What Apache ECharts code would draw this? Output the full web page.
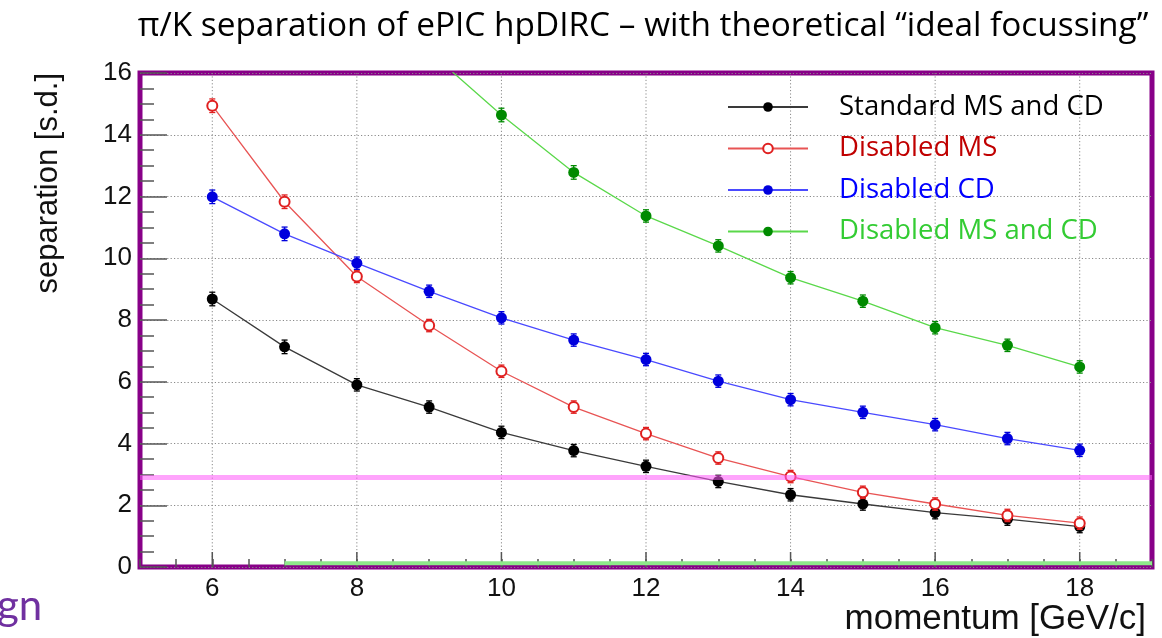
<!DOCTYPE html>
<html>
<head>
<meta charset="utf-8">
<title>π/K separation of ePIC hpDIRC</title>
<script src="https://cdn.jsdelivr.net/npm/echarts@6/dist/echarts.min.js"></script>
<style>
  html, body { margin: 0; padding: 0; background: #ffffff; }
  #chart { width: 1162px; height: 638px; }
</style>
</head>
<body>
<div id="chart"></div>
<script>
// ---- data ---------------------------------------------------------------
const momentum = [6, 7, 8, 9, 10, 11, 12, 13, 14, 15, 16, 17, 18];

const sepStandard = [8.68, 7.13, 5.90, 5.18, 4.36, 3.77, 3.26, 2.77, 2.34, 2.04, 1.76, 1.55, 1.31];
const errStandard = [0.22, 0.22, 0.2, 0.2, 0.2, 0.2, 0.2, 0.2, 0.2, 0.2, 0.2, 0.2, 0.2];

const sepNoMS = [14.94, 11.83, 9.41, 7.82, 6.34, 5.18, 4.32, 3.53, 2.93, 2.42, 2.04, 1.67, 1.42];
const errNoMS = [0.22, 0.22, 0.2, 0.2, 0.2, 0.2, 0.2, 0.2, 0.2, 0.2, 0.2, 0.2, 0.2];

const sepNoCD = [11.99, 10.79, 9.84, 8.93, 8.07, 7.35, 6.72, 6.02, 5.42, 5.01, 4.61, 4.16, 3.78];
const errNoCD = [0.22, 0.22, 0.2, 0.2, 0.2, 0.2, 0.2, 0.2, 0.2, 0.2, 0.2, 0.2, 0.2];

const momentumNoMSCD = [9, 10, 11, 12, 13, 14, 15, 16, 17, 18];
const sepNoMSCD = [16.7, 14.64, 12.78, 11.37, 10.40, 9.37, 8.61, 7.75, 7.18, 6.48];
const errNoMSCD = [0.22, 0.22, 0.22, 0.2, 0.2, 0.2, 0.2, 0.2, 0.2, 0.2];

const seriesNames = ['Standard MS and CD', 'Disabled MS', 'Disabled CD', 'Disabled MS and CD'];

const xTickLabels = [6, 8, 10, 12, 14, 16, 18];
const xRange = [5, 19];
const yRange = [0, 16];

// 3 s.d. reference band and the green baseline segment
const thresholdLevel = 2.9;
const baselineSpan = [7, 19];
const baselineLevel = 0.12;

// ---- styling ------------------------------------------------------------
const styles = [
  { line: '#3a3a3a', marker: '#000000', text: '#000000', symbol: 'circle' },
  { line: '#e85454', marker: '#e02020', text: '#c00000', symbol: 'emptyCircle' },
  { line: '#4a4aff', marker: '#0000dd', text: '#0000ff', symbol: 'circle' },
  { line: '#5ad84a', marker: '#008a00', text: '#33cc33', symbol: 'circle' }
];

const pairs = (xs, ys) => xs.map((x, i) => [x, ys[i]]);
const triples = (xs, ys, es) => xs.map((x, i) => [x, ys[i], es[i]]);

const sets = [
  { x: momentum, y: sepStandard, e: errStandard },
  { x: momentum, y: sepNoMS, e: errNoMS },
  { x: momentum, y: sepNoCD, e: errNoCD },
  { x: momentumNoMSCD, y: sepNoMSCD, e: errNoMSCD }
];

const series = [];

// vertical dotted grid lines and long ticks at labelled momenta
series.push({
  type: 'custom',
  silent: true,
  z: 1,
  clip: true,
  data: xTickLabels.map(v => [v, 0]),
  encode: { x: 0, y: 1 },
  renderItem: (params, api) => {
    const v = api.value(0);
    const top = api.coord([v, yRange[1]]);
    const bot = api.coord([v, yRange[0]]);
    return {
      type: 'group',
      children: [
        { type: 'line', shape: { x1: top[0], y1: top[1], x2: bot[0], y2: bot[1] },
          style: { stroke: '#8a8a8a', lineWidth: 1, lineDash: [1.2, 2.2] } },
        { type: 'line', shape: { x1: bot[0], y1: bot[1], x2: bot[0], y2: bot[1] - 15 },
          style: { stroke: '#555555', lineWidth: 1.5 } }
      ]
    };
  }
});

sets.forEach((s, i) => {
  const st = styles[i];
  series.push({
    name: seriesNames[i],
    type: 'line',
    data: pairs(s.x, s.y),
    symbol: st.symbol,
    symbolSize: st.symbol === 'emptyCircle' ? 10 : 11,
    showSymbol: true,
    clip: true,
    z: 3 + i,
    lineStyle: { color: st.line, width: 1.3 },
    itemStyle: { color: st.marker, borderColor: st.marker, borderWidth: st.symbol === 'emptyCircle' ? 1.4 : 0 },
    emphasis: { disabled: true }
  });
  series.push({
    type: 'custom',
    silent: true,
    clip: true,
    z: 3 + i,
    data: triples(s.x, s.y, s.e),
    encode: { x: 0, y: 1 },
    renderItem: (params, api) => {
      const x = api.value(0), y = api.value(1), e = api.value(2);
      const lo = api.coord([x, y - e]);
      const hi = api.coord([x, y + e]);
      const c = { stroke: st.marker, lineWidth: 1.3 };
      return {
        type: 'group',
        children: [
          { type: 'line', shape: { x1: lo[0], y1: lo[1], x2: hi[0], y2: hi[1] }, style: c },
          { type: 'line', shape: { x1: lo[0] - 3, y1: lo[1], x2: lo[0] + 3, y2: lo[1] }, style: c },
          { type: 'line', shape: { x1: hi[0] - 3, y1: hi[1], x2: hi[0] + 3, y2: hi[1] }, style: c }
        ]
      };
    }
  });
});

// 3 s.d. band
series.push({
  type: 'line',
  silent: true,
  z: 10,
  data: [[xRange[0], thresholdLevel], [xRange[1], thresholdLevel]],
  symbol: 'none',
  lineStyle: { color: 'rgba(255, 90, 250, 0.55)', width: 5 }
});

// green baseline
series.push({
  type: 'line',
  silent: true,
  z: 2,
  data: [[baselineSpan[0], baselineLevel], [baselineSpan[1], baselineLevel]],
  symbol: 'none',
  lineStyle: { color: '#8ee88a', width: 4 }
});

const chart = echarts.init(document.getElementById('chart'), null, { renderer: 'canvas' });

chart.setOption({
  animation: false,
  backgroundColor: '#ffffff',
  grid: {
    left: 140, right: 10, top: 73, bottom: 71,
    show: true, borderColor: '#880088', borderWidth: 5, backgroundColor: 'transparent'
  },
  xAxis: {
    type: 'value',
    min: xRange[0], max: xRange[1], interval: 1,
    axisLine: { show: false },
    axisTick: { show: true, inside: true, length: 8, lineStyle: { color: '#555555', width: 1.5 } },
    minorTick: { show: true, splitNumber: 2, length: 8, lineStyle: { color: '#555555', width: 1.5 } },
    splitLine: { show: false },
    axisLabel: {
      margin: 9,
      fontFamily: 'Liberation Sans', fontSize: 26, color: '#111111',
      formatter: v => (xTickLabels.indexOf(v) >= 0 ? String(v) : '')
    }
  },
  yAxis: {
    type: 'value',
    min: yRange[0], max: yRange[1], interval: 2,
    axisLine: { show: false },
    axisTick: { show: true, inside: true, length: 27, lineStyle: { color: '#555555', width: 1.5 } },
    minorTick: { show: true, splitNumber: 4, length: 14, lineStyle: { color: '#555555', width: 1.5 } },
    splitLine: { show: true, lineStyle: { color: '#8a8a8a', width: 1, type: [1.2, 2.2] } },
    axisLabel: { margin: 8, fontFamily: 'Liberation Sans', fontSize: 26, color: '#111111' }
  },
  legend: {
    orient: 'vertical',
    left: 727, top: 92, padding: 0,
    itemWidth: 80, itemHeight: 12, itemGap: 11.5,
    selectedMode: false,
    data: seriesNames.map((n, i) => ({ name: n, textStyle: { color: styles[i].text } })),
    textStyle: { fontFamily: 'Open Sans', fontSize: 27.5, lineHeight: 30, padding: [0, 0, 0, 26] }
  },
  graphic: [
    { type: 'text', x: 643, y: 26,
      style: { text: 'π/K separation of ePIC hpDIRC – with theoretical “ideal focussing”',
               font: '33.4px "Open Sans"', fill: '#000000', align: 'center', verticalAlign: 'middle' } },
    { type: 'text', x: 48, y: 73, rotation: Math.PI / 2,
      style: { text: 'separation [s.d.]', font: '31px "Liberation Sans"', fill: '#111111',
               align: 'right', verticalAlign: 'middle' } },
    { type: 'text', x: 1146, y: 619,
      style: { text: 'momentum [GeV/c]', font: '35px "Liberation Sans"', fill: '#111111',
               align: 'right', verticalAlign: 'middle' } },
    { type: 'text', x: -3, y: 606,
      style: { text: 'gn', font: '42px Lato', fill: '#7030a0', align: 'left', verticalAlign: 'middle' } }
  ],
  series: series
});
</script>
</body>
</html>
